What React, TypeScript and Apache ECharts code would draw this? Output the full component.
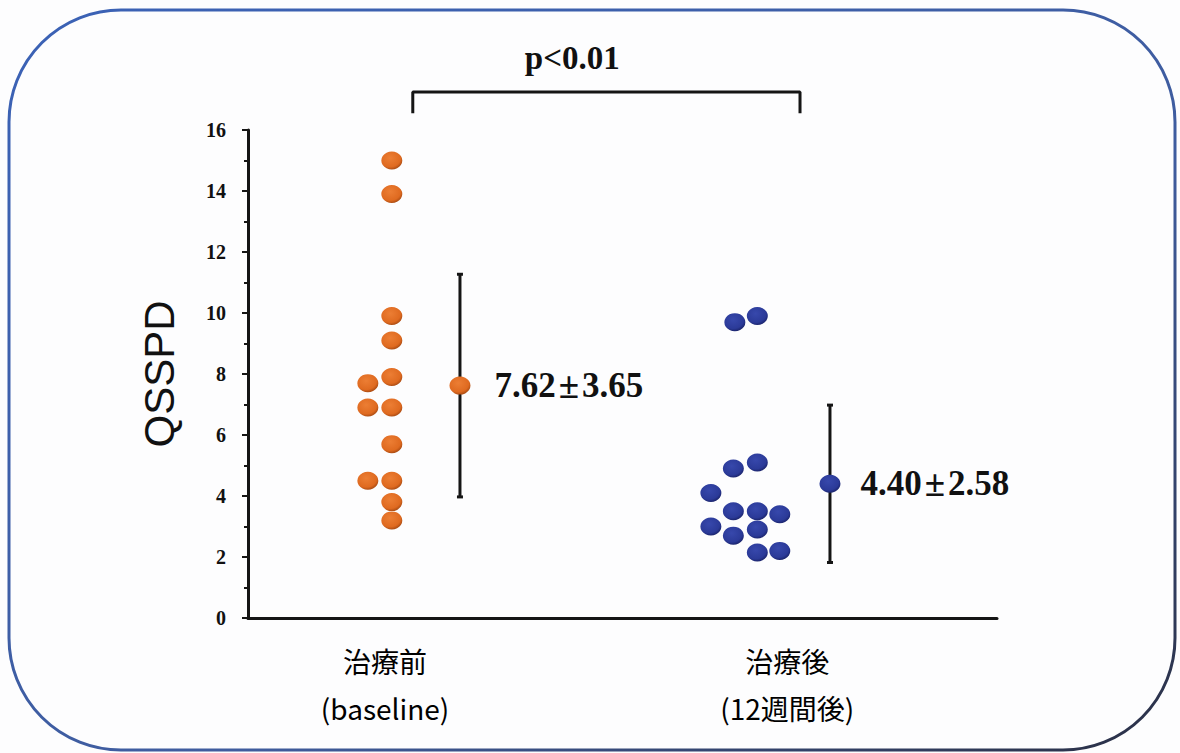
import React, { useEffect, useRef } from "react";
import * as echarts from "echarts";

// ---- data ----
const yTicks = [0, 2, 4, 6, 8, 10, 12, 14, 16];
const groupNames = ["治療前\n(baseline)", "治療後\n(12週間後)"];
// x position (column on a 0-100 horizontal scale) and QSSPD value of each patient
const beforeX = [19.2, 19.2, 19.2, 19.2, 19.2, 16.0, 16.0, 19.2, 19.2, 16.0, 19.2, 19.2, 19.2];
const beforeY = [15.0, 13.9, 9.9, 9.1, 7.9, 7.7, 6.9, 6.9, 5.7, 4.5, 4.5, 3.8, 3.2];
const afterX = [65.0, 68.0, 64.8, 68.0, 61.8, 64.8, 68.0, 71.0, 61.8, 64.8, 68.0, 68.0, 71.0];
const afterY = [9.7, 9.9, 4.9, 5.1, 4.1, 3.5, 3.5, 3.4, 3.0, 2.7, 2.9, 2.15, 2.2];
const meanX = [28.3, 77.7];
const means = [7.62, 4.4];
const sds = [3.65, 2.58];
const labelX = [18.3, 72.0];
const bracketX = [22.0, 73.7];
const bracketY = [16.55, 17.25];
const pText = "p<0.01";
const pPos = [43.3, 18.35];

const orangeFill = () =>
  new echarts.graphic.RadialGradient(0.42, 0.36, 0.66, [
    { offset: 0, color: "#ec7e34" },
    { offset: 0.75, color: "#df6a20" },
    { offset: 1, color: "#a84a12" },
  ]);
const blueFill = () =>
  new echarts.graphic.RadialGradient(0.42, 0.36, 0.66, [
    { offset: 0, color: "#3748ac" },
    { offset: 0.75, color: "#2b3a98" },
    { offset: 1, color: "#1a236a" },
  ]);

export default function App() {
  const ref = useRef<HTMLDivElement>(null);
  useEffect(() => {
    if (!ref.current) return;
    const chart = echarts.init(ref.current, undefined, { renderer: "svg" });
    const serifBold = {
      fontFamily: "Liberation Serif",
      fontWeight: "bold" as const,
      color: "#111",
    };
    const dotStyle = (fill: any) => ({ color: fill, opacity: 1 });
    const option: any = {
      animation: false,
      backgroundColor: "#fdfdfe",
      grid: { left: 248, right: 183, top: 130, bottom: 135, containLabel: false },
      xAxis: {
        type: "value",
        min: 0,
        max: 100,
        axisLine: { show: true, lineStyle: { color: "#151515", width: 3 } },
        axisTick: { show: false },
        axisLabel: { show: false },
        splitLine: { show: false },
      },
      yAxis: {
        type: "value",
        min: yTicks[0],
        max: yTicks[yTicks.length - 1],
        interval: 2,
        name: "QSSPD",
        nameLocation: "middle",
        nameRotate: 90,
        nameGap: 68,
        nameTextStyle: { fontFamily: "Liberation Sans", fontSize: 42, color: "#111" },
        axisLine: { show: true, lineStyle: { color: "#151515", width: 3 } },
        axisTick: { show: true, inside: false, length: 6, lineStyle: { color: "#151515", width: 2 } },
        minorTick: { show: true, splitNumber: 2, length: 4, lineStyle: { color: "#151515", width: 2 } },
        axisLabel: { ...serifBold, fontSize: 20, margin: 22 },
        splitLine: { show: false },
      },
      series: [
        {
          type: "custom",
          name: "sd",
          data: means.map((m, i) => [meanX[i], m, sds[i]]),
          renderItem: (params: any, api: any) => {
            const x = api.value(0);
            const m = api.value(1);
            const s = api.value(2);
            const top = api.coord([x, m + s]);
            const bot = api.coord([x, m - s]);
            const style = { stroke: "#151515", lineWidth: 3 };
            return {
              type: "group",
              children: [
                { type: "line", shape: { x1: top[0], y1: top[1], x2: bot[0], y2: bot[1] }, style },
                { type: "line", shape: { x1: top[0] - 3, y1: top[1], x2: top[0] + 3, y2: top[1] }, style },
                { type: "line", shape: { x1: bot[0] - 3, y1: bot[1], x2: bot[0] + 3, y2: bot[1] }, style },
              ],
            };
          },
          z: 2,
        },
        {
          type: "scatter",
          name: "治療前",
          data: beforeX.map((x, i) => [x, beforeY[i]]),
          symbol: "circle",
          symbolSize: [21, 18],
          itemStyle: dotStyle(orangeFill()),
          z: 3,
        },
        {
          type: "scatter",
          name: "治療後",
          data: afterX.map((x, i) => [x, afterY[i]]),
          symbol: "circle",
          symbolSize: [21, 18],
          itemStyle: dotStyle(blueFill()),
          z: 3,
        },
        {
          type: "scatter",
          name: "mean",
          data: means.map((m, i) => ({
            value: [meanX[i], m],
            itemStyle: dotStyle(i === 0 ? orangeFill() : blueFill()),
            label: { distance: i === 0 ? 24 : 20 },
          })),
          symbol: "circle",
          symbolSize: [21, 18],
          label: {
            show: true,
            position: "right",
            formatter: (p: any) =>
              `{n|${means[p.dataIndex].toFixed(2)}}{pm|±}{n|${sds[p.dataIndex].toFixed(2)}}`,
            rich: {
              n: { ...serifBold, fontSize: 35 },
              pm: { ...serifBold, fontSize: 37, padding: [0, 3, 0, 3] },
            },
          },
          z: 4,
        },
        {
          type: "scatter",
          name: "groups",
          data: labelX.map((x) => [x, 0]),
          symbolSize: 0,
          clip: false,
          silent: true,
          itemStyle: { opacity: 1 },
          label: {
            show: true,
            position: "bottom",
            distance: 19,
            fontFamily: "Noto Sans CJK JP",
            fontSize: 28,
            lineHeight: 47,
            color: "#000",
            align: "center",
            formatter: (p: any) => groupNames[p.dataIndex],
          },
        },
        {
          type: "line",
          name: "bracket",
          data: [
            [bracketX[0], bracketY[0]],
            [bracketX[0], bracketY[1]],
            [bracketX[1], bracketY[1]],
            [bracketX[1], bracketY[0]],
          ],
          clip: false,
          showSymbol: false,
          symbol: "none",
          silent: true,
          lineStyle: { color: "#151515", width: 3 },
        },
        {
          type: "scatter",
          name: "p",
          data: [pPos],
          symbolSize: 0,
          clip: false,
          silent: true,
          itemStyle: { opacity: 1 },
          label: {
            show: true,
            position: "inside",
            ...serifBold,
            fontSize: 33,
            formatter: () => pText,
          },
        },
      ],
      graphic: [
        {
          type: "rect",
          silent: true,
          shape: { x: 9, y: 10, width: 1166, height: 740, r: 112 },
          style: {
            fill: "none",
            stroke: new echarts.graphic.LinearGradient(0, 0, 1, 1, [
              { offset: 0, color: "#3b62b6" },
              { offset: 0.6, color: "#3f5c9e" },
              { offset: 1, color: "#2a2f44" },
            ]),
            lineWidth: 3,
          },
          z: 10,
        },
      ],
    };
    chart.setOption(option);
    return () => chart.dispose();
  }, []);
  return (
    <div
      ref={ref}
      style={{ position: "absolute", left: 0, top: 0, width: 1180, height: 753, background: "#fdfdfe" }}
    />
  );
}
